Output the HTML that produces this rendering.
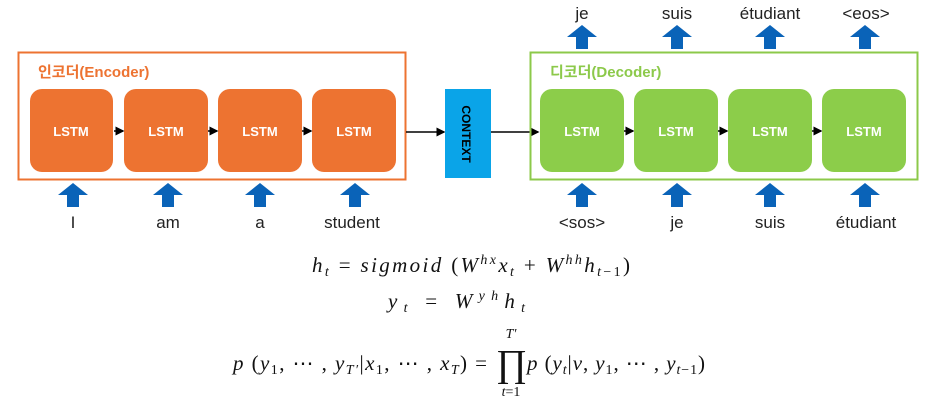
<!DOCTYPE html>
<html><head><meta charset="utf-8"><style>
body{margin:0;background:#fff;}
svg{display:block}
.l{font-family:"Liberation Sans",sans-serif;font-weight:bold;font-size:13px;fill:#fff;text-anchor:middle}
.w{font-family:"Liberation Sans",sans-serif;font-size:17px;fill:#222;text-anchor:middle}
.m{font-family:"Liberation Serif",serif;font-size:21px;fill:#111}
.i{font-style:italic}
</style></head><body>
<svg width="949" height="402" viewBox="0 0 949 402">
<defs>
<marker id="a" markerWidth="6" markerHeight="6" refX="5" refY="3" orient="auto"><path d="M0,0L6,3L0,6z" fill="#000"/></marker>
<symbol id="up" viewBox="0 0 30 24"><path d="M15,0L30,12H21V24H9V12H0z" fill="#0a63b8"/></symbol>
</defs>
<rect x="18.5" y="52.5" width="387" height="127" fill="none" stroke="#ed7331" stroke-width="2"/>
<text x="38" y="77" font-family="Liberation Sans,'Noto Sans CJK KR',sans-serif" font-weight="bold" font-size="15" fill="#ed7331">인코더(Encoder)</text>
<g fill="#ed7331">
<rect x="30" y="89" width="83" height="83" rx="12"/><rect x="124" y="89" width="84" height="83" rx="12"/>
<rect x="218" y="89" width="84" height="83" rx="12"/><rect x="312" y="89" width="84" height="83" rx="12"/>
</g>
<g class="l"><text x="71" y="136">LSTM</text><text x="166" y="136">LSTM</text><text x="260" y="136">LSTM</text><text x="354" y="136">LSTM</text></g>
<g stroke="#000" stroke-width="1.5" marker-end="url(#a)">
<line x1="114" y1="131" x2="123" y2="131"/><line x1="208" y1="131" x2="217" y2="131"/><line x1="302" y1="131" x2="311" y2="131"/>
<line x1="406" y1="132" x2="444" y2="132"/><line x1="491" y1="132" x2="538" y2="132"/>
<line x1="624" y1="131" x2="633" y2="131"/><line x1="718" y1="131" x2="727" y2="131"/><line x1="812" y1="131" x2="821" y2="131"/>
</g>
<rect x="445" y="89" width="46" height="89" fill="#0aa4e8"/>
<text x="0" y="0" transform="translate(462,134) rotate(90)" text-anchor="middle" font-family="Liberation Sans,sans-serif" font-weight="bold" font-size="12" fill="#000">CONTEXT</text>
<rect x="530.5" y="52.5" width="387" height="127" fill="none" stroke="#8cc94a" stroke-width="2"/>
<text x="550" y="77" font-family="Liberation Sans,'Noto Sans CJK KR',sans-serif" font-weight="bold" font-size="15" fill="#8cc94a">디코더(Decoder)</text>
<g fill="#8ccd4a">
<rect x="540" y="89" width="84" height="83" rx="12"/><rect x="634" y="89" width="84" height="83" rx="12"/>
<rect x="728" y="89" width="84" height="83" rx="12"/><rect x="822" y="89" width="84" height="83" rx="12"/>
</g>
<g class="l"><text x="582" y="136">LSTM</text><text x="676" y="136">LSTM</text><text x="770" y="136">LSTM</text><text x="864" y="136">LSTM</text></g>
<use href="#up" x="58" y="183" width="30" height="24"/><use href="#up" x="153" y="183" width="30" height="24"/>
<use href="#up" x="245" y="183" width="30" height="24"/><use href="#up" x="340" y="183" width="30" height="24"/>
<use href="#up" x="567" y="183" width="30" height="24"/><use href="#up" x="662" y="183" width="30" height="24"/>
<use href="#up" x="755" y="183" width="30" height="24"/><use href="#up" x="850" y="183" width="30" height="24"/>
<use href="#up" x="567" y="25" width="30" height="24"/><use href="#up" x="662" y="25" width="30" height="24"/>
<use href="#up" x="755" y="25" width="30" height="24"/><use href="#up" x="850" y="25" width="30" height="24"/>
<g class="w">
<text x="73" y="228">I</text><text x="168" y="228">am</text><text x="260" y="228">a</text><text x="352" y="228">student</text>
<text x="582" y="228">&lt;sos&gt;</text><text x="677" y="228">je</text><text x="770" y="228">suis</text><text x="866" y="228">étudiant</text>
<text x="582" y="19">je</text><text x="677" y="19">suis</text><text x="770" y="19">étudiant</text><text x="866" y="19">&lt;eos&gt;</text>
</g>
<g class="m">
<text x="312" y="272" textLength="318" lengthAdjust="spacing"><tspan class="i">h</tspan><tspan font-size="14" dy="4" class="i">t</tspan><tspan dy="-4"> = </tspan><tspan class="i">sigmoid</tspan> (<tspan class="i">W</tspan><tspan font-size="14" dy="-8" class="i">hx</tspan><tspan dy="8" class="i">x</tspan><tspan font-size="14" dy="4" class="i">t</tspan><tspan dy="-4"> + </tspan><tspan class="i">W</tspan><tspan font-size="14" dy="-8" class="i">hh</tspan><tspan dy="8" class="i">h</tspan><tspan font-size="14" dy="4"><tspan class="i">t</tspan>−1</tspan><tspan dy="-4">)</tspan></text>
<text x="388" y="308" textLength="137" lengthAdjust="spacing"><tspan class="i">y</tspan><tspan font-size="14" dy="4" class="i">t</tspan><tspan dy="-4"> = </tspan><tspan class="i">W</tspan><tspan font-size="14" dy="-8" class="i">yh</tspan><tspan dy="8" class="i">h</tspan><tspan font-size="14" dy="4" class="i">t</tspan></text>
<text x="233" y="370" textLength="254" lengthAdjust="spacing"><tspan class="i">p</tspan> (<tspan class="i">y</tspan><tspan font-size="14" dy="4">1</tspan><tspan dy="-4">, ⋯ , </tspan><tspan class="i">y</tspan><tspan font-size="14" dy="4" class="i">T′</tspan><tspan dy="-4">|</tspan><tspan class="i">x</tspan><tspan font-size="14" dy="4">1</tspan><tspan dy="-4">, ⋯ , </tspan><tspan class="i">x</tspan><tspan font-size="14" dy="4" class="i">T</tspan><tspan dy="-4">) =</tspan></text>
<text x="496" y="376" font-size="38">∏</text>
<text x="511" y="338" font-size="14" class="i" text-anchor="middle">T′</text>
<text x="511" y="396" font-size="14" text-anchor="middle"><tspan class="i">t</tspan>=1</text>
<text x="527" y="370" textLength="178" lengthAdjust="spacing"><tspan class="i">p</tspan> (<tspan class="i">y</tspan><tspan font-size="14" dy="4" class="i">t</tspan><tspan dy="-4">|</tspan><tspan class="i">v</tspan>, <tspan class="i">y</tspan><tspan font-size="14" dy="4">1</tspan><tspan dy="-4">, ⋯ , </tspan><tspan class="i">y</tspan><tspan font-size="14" dy="4"><tspan class="i">t</tspan>−1</tspan><tspan dy="-4">)</tspan></text>
</g>
</svg>
</body></html>
